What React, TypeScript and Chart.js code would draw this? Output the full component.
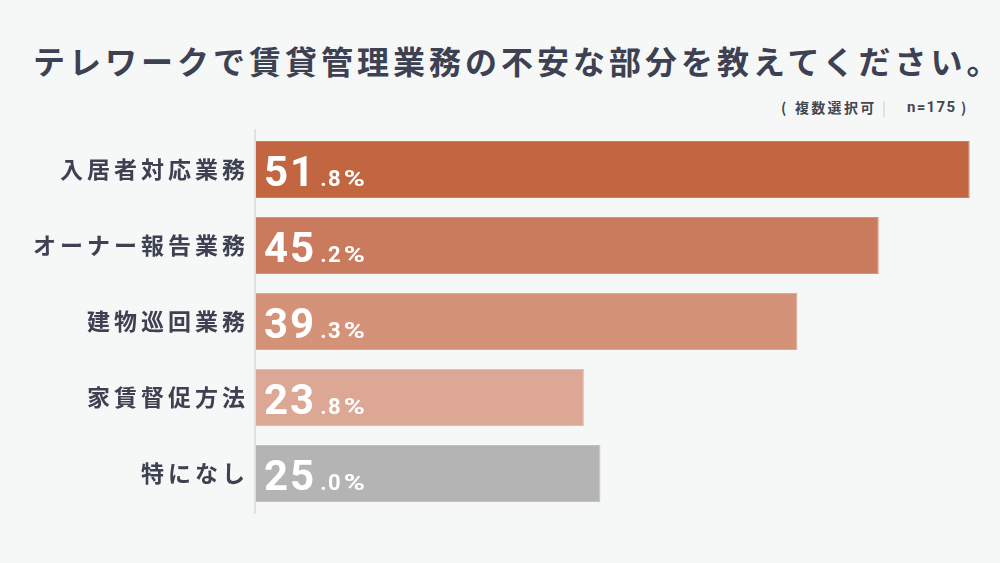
import React, { useEffect, useRef } from "react";
import { Chart, registerables } from "chart.js";

Chart.register(...registerables);

const titleText = "テレワークで賃貸管理業務の不安な部分を教えてください。";
const noteKanji = "複数選択可";
const noteN = "n=175";
const categories = ["入居者対応業務", "オーナー報告業務", "建物巡回業務", "家賃督促方法", "特になし"];
const values = [51.8, 45.2, 39.3, 23.8, 25.0];
const barColors = ["#c26642", "#cb7b5d", "#d49379", "#dca794", "#b4b4b4"];
const barBorders = ["#cd8166", "#d6937a", "#dea994", "#e6bbab", "#c2c2c2"];

const TEXT = "#3d4152";
const BG = "#f6f8f8";
const NUM_FONT = "Roboto";

const labelPlugin = {
  id: "barLabels",
  beforeDraw(chart: any) {
    chart.ctx.letterSpacing = "4px";
  },
  afterDatasetsDraw(chart: any) {
    const ctx = chart.ctx;
    const meta = chart.getDatasetMeta(0);
    ctx.save();
    ctx.letterSpacing = "0px";
    ctx.fillStyle = "#e0e2e2";
    ctx.fillRect(254, 129, 2, 385);
    meta.data.forEach((bar: any, i: number) => {
      const v = values[i].toFixed(1);
      const [ip, dp] = v.split(".");
      const x0 = bar.base + 8;
      const yb = bar.y + 16.5;
      ctx.fillStyle = "#ffffff";
      ctx.textAlign = "left";
      ctx.textBaseline = "alphabetic";
      ctx.font = "bold 42px " + NUM_FONT;
      ctx.letterSpacing = "2px";
      ctx.fillText(ip, x0, yb);
      const w = ctx.measureText(ip).width;
      ctx.font = "bold 22px " + NUM_FONT;
      const xd = x0 + w + 4;
      const dec = "." + dp;
      ctx.letterSpacing = "1.5px";
      ctx.fillText(dec, xd, yb);
      const wd = ctx.measureText(dec).width;
      ctx.letterSpacing = "0px";
      ctx.save();
      ctx.translate(xd + wd + 1.5, yb);
      ctx.scale(1.3, 1);
      ctx.fillText("%", 0, 0);
      ctx.restore();
    });
    ctx.restore();
  },
  afterDraw(chart: any) {
    chart.ctx.letterSpacing = "0px";
  },
};

export default function App() {
  const ref = useRef<HTMLCanvasElement>(null);
  useEffect(() => {
    if (!ref.current) return;
    const chart = new Chart(ref.current, {
      type: "bar",
      data: {
        labels: categories,
        datasets: [
          {
            data: values,
            backgroundColor: barColors,
            borderColor: barBorders,
            borderWidth: 1,
            borderSkipped: "left",
            barPercentage: 0.75,
            categoryPercentage: 1,
          },
        ],
      },
      options: {
        indexAxis: "y",
        responsive: false,
        animation: false,
        devicePixelRatio: 1,
        layout: { padding: { top: 131.5, bottom: 51.5, left: 0, right: 20 } },
        plugins: { legend: { display: false }, tooltip: { enabled: false }, title: { display: false } },
        scales: {
          x: { display: false, min: 0, max: 52.55 },
          y: {
            grid: { display: false, drawTicks: false },
            border: { display: false },
            ticks: {
              color: TEXT,
              padding: 7,
              font: { family: "'Noto Sans CJK JP'", size: 23, weight: "bold" },
            },
            afterFit: (axis: any) => {
              axis.width = 256;
            },
          },
        },
      },
      plugins: [labelPlugin],
    } as any);
    return () => chart.destroy();
  }, []);

  const note: React.CSSProperties = {
    position: "absolute",
    top: 97,
    fontWeight: 700,
    fontSize: 14,
    lineHeight: "20px",
    color: "#444752",
    whiteSpace: "nowrap",
  };

  return (
    <div style={{ position: "fixed", left: 0, top: 0, width: 1000, height: 563, background: BG, overflow: "hidden" }}>
      <div
        style={{
          position: "absolute",
          left: 33,
          top: 40,
          fontFamily: "'Noto Sans CJK JP'",
          fontWeight: 700,
          fontSize: 32,
          lineHeight: "40px",
          letterSpacing: "4px",
          color: TEXT,
          whiteSpace: "nowrap",
        }}
      >
        {titleText}
      </div>
      <span style={{ ...note, left: 781, fontFamily: "'Noto Sans CJK JP'" }}>(</span>
      <span style={{ ...note, left: 795, fontFamily: "'Noto Sans CJK JP'", letterSpacing: "2.3px" }}>{noteKanji}</span>
      <span style={{ ...note, left: 882, fontFamily: "'Noto Sans CJK JP'", fontWeight: 400, color: "#c8cacc" }}>|</span>
      <span style={{ ...note, left: 907, fontFamily: "Roboto", letterSpacing: "1.3px", fontSize: 15 }}>{noteN}</span>
      <span style={{ ...note, left: 961, fontFamily: "'Noto Sans CJK JP'" }}>)</span>
      <canvas ref={ref} width={1000} height={563} style={{ position: "absolute", left: 0, top: 0, width: 1000, height: 563 }} />
    </div>
  );
}
